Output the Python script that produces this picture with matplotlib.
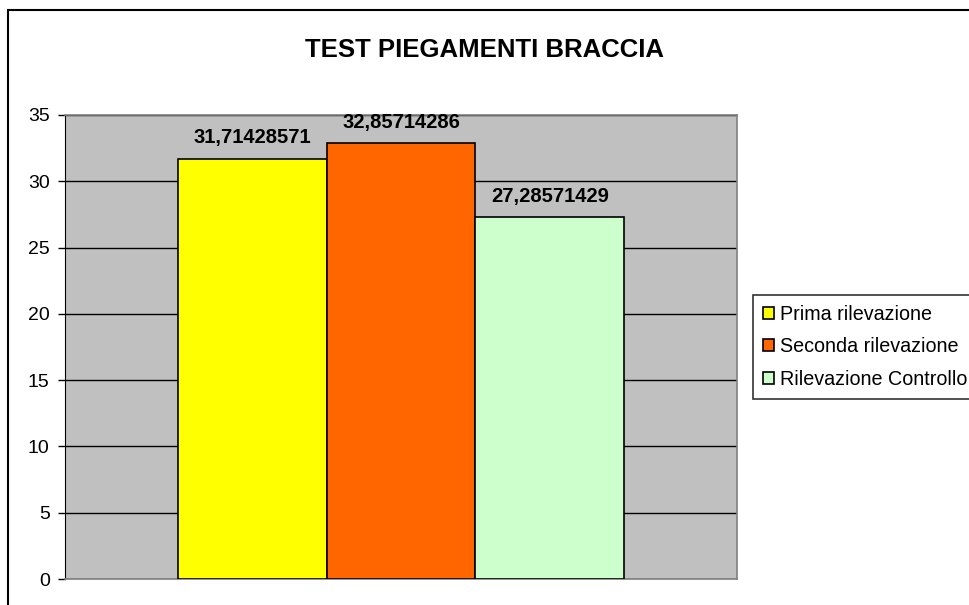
import matplotlib.pyplot as plt
from matplotlib.patches import Rectangle

plt.rcParams['font.family'] = ['Liberation Sans', 'DejaVu Sans']

series = ['Prima rilevazione', 'Seconda rilevazione', 'Rilevazione Controllo']
values = [31.71428571, 32.85714286, 27.28571429]
colors = ['#FFFF00', '#FF6600', '#CCFFCC']
yticks = [0, 5, 10, 15, 20, 25, 30, 35]

fig = plt.figure(figsize=(9.7, 6.05), dpi=100)
ax = fig.add_axes([65 / 970, 26 / 605, 672 / 970, 464 / 605])
ax.set_facecolor('#C0C0C0')

bw = 0.2217
for i, (name, v, c) in enumerate(zip(series, values, colors)):
    x = (i - 1) * bw
    ax.bar(x, v, width=bw, color=c, edgecolor='black', linewidth=1.2, label=name, zorder=3)
    ax.text(x, v + 1.15, f"{v:.8f}".replace('.', ','), ha='center', va='baseline',
            fontsize=14.5, fontweight='bold', zorder=4)

ax.set_xlim(-0.5, 0.5)
ax.set_ylim(0, 35)
ax.set_yticks(yticks)
ax.set_yticklabels([str(t) for t in yticks], fontsize=14)
ax.set_xticks([])
ax.yaxis.grid(True, color='black', linewidth=1)
ax.set_axisbelow(True)
ax.tick_params(axis='y', direction='out', length=5, width=1, pad=6)
for s in ['top', 'right', 'bottom']:
    ax.spines[s].set_color('#808080')
    ax.spines[s].set_linewidth(1.2)
ax.spines['left'].set_color('black')

fig.text(0.5, 1 - 50 / 605, 'TEST PIEGAMENTI BRACCIA', ha='center', va='center',
         fontsize=18.5, fontweight='bold')

leg = fig.legend(loc='upper left', bbox_to_anchor=(753 / 970, 1 - 295 / 605),
                 fontsize=14.2, frameon=True, fancybox=False, edgecolor='black',
                 handlelength=0.55, handleheight=0.55, handletextpad=0.3,
                 borderpad=0.5, labelspacing=0.68, borderaxespad=0)
leg.get_frame().set_linewidth(1.2)

# outer chart border (extends past the right and bottom edges)
fig.patches.append(Rectangle((8 / 970, -0.1), 1.2, 1 - 10 / 605 + 0.1,
                             transform=fig.transFigure, fill=False,
                             edgecolor='black', linewidth=1.5))

fig.savefig('out.png', dpi=100)
